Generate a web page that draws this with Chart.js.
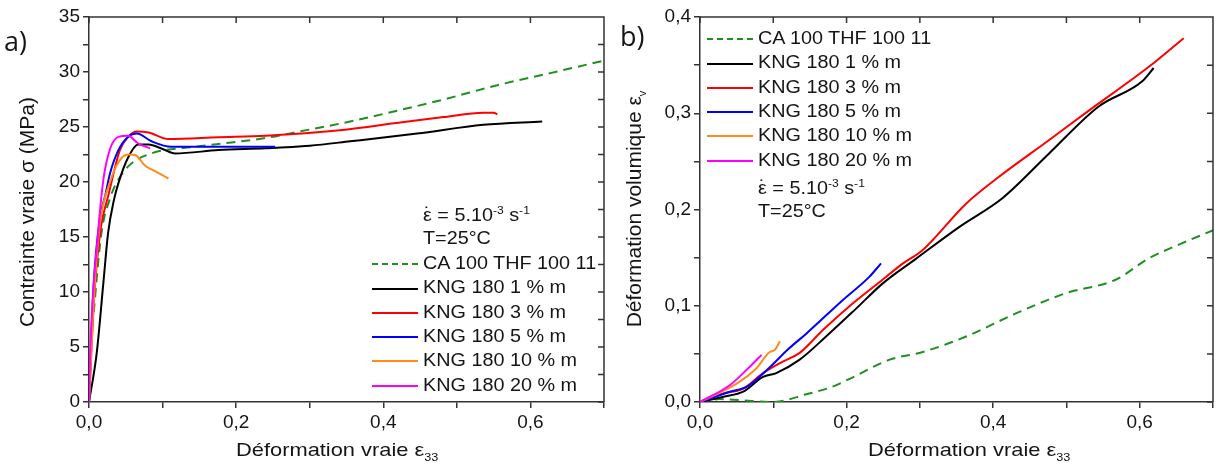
<!DOCTYPE html>
<html>
<head>
<meta charset="utf-8">
<script src="https://cdn.jsdelivr.net/npm/chart.js@4.4.1/dist/chart.umd.min.js"></script>
<style>
  body { margin: 0; background: #fff; width: 1216px; height: 465px; overflow: hidden; position: relative;
         font-family: "Liberation Sans", Arial, sans-serif; color: #151515; }
  canvas { position: absolute; top: 0; }
  .t { position: absolute; white-space: nowrap; font-size: 18px; line-height: 20px; }
  .t sup, .t sub, .item sup { font-size: 11px; line-height: 0; }
  .wide { display: inline-block; transform: scaleX(1.1); transform-origin: left center; }
  .rot { transform: translate(-50%, -50%) rotate(-90deg); font-size: 21px; }
  .xt { font-size: 19px; transform: scaleX(1.15); transform-origin: left center; }
  .item { position: absolute; white-space: nowrap; font-size: 18px; line-height: 20px; height: 20px; }
  .item i { display: inline-block; width: 46px; height: 0; border-top: 2px solid; vertical-align: middle; margin-right: 5px; }
  .edot { position: relative; }
  .edot::after { content: "\02D9"; position: absolute; left: 1px; top: -1px; }
  .panel { position: absolute; font-family: "Open Sans", sans-serif; font-size: 27px; }
</style>
</head>
<body>
<canvas id="chartA" width="620" height="465" style="left:0"></canvas>
<canvas id="chartB" width="596" height="465" style="left:620px"></canvas>

<div class="panel" style="left:4px;top:22px">a)</div>
<div class="panel" style="left:620px;top:17px">b)</div>

<div class="t rot" style="left:27px;top:212px">Contrainte vraie σ (MPa)</div>
<div class="t xt" style="left:236px;top:440px">Déformation vraie ε<sub>33</sub></div>
<div class="t rot" style="left:634px;top:209px">Déformation volumique ε<sub>v</sub></div>
<div class="t xt" style="left:868px;top:440px">Déformation vraie ε<sub>33</sub></div>

<div id="legA"></div>
<div id="legB"></div>

<script>
// légende
const seriesNames = ["CA 100 THF 100 11", "KNG 180 1 % m", "KNG 180 3 % m", "KNG 180 5 % m", "KNG 180 10 % m", "KNG 180 20 % m"];
const seriesColors = ["#1f8f1f", "#000000", "#ff0000", "#0000ff", "#ff8c1a", "#ff00ff"];

// a) contrainte vraie (MPa) vs déformation vraie
const caX_a = [0, 0.0014, 0.008, 0.017, 0.028, 0.035, 0.053, 0.085, 0.144, 0.194, 0.24, 0.287, 0.355, 0.42, 0.482, 0.555, 0.627, 0.704];
const caY_a = [0, 3.2, 9.3, 15.4, 18.4, 19.6, 21.4, 22.6, 23.2, 23.6, 24.0, 24.6, 25.5, 26.5, 27.5, 28.8, 29.9, 31.1];
const k1X_a = [0, 0.0104, 0.0195, 0.026, 0.034, 0.04, 0.053, 0.067, 0.081, 0.1, 0.117, 0.176, 0.24, 0.3, 0.355, 0.446, 0.536, 0.616];
const k1Y_a = [0, 4.4, 10.8, 15.4, 18.4, 19.9, 22.2, 23.4, 23.4, 23.0, 22.6, 22.9, 23.06, 23.3, 23.7, 24.4, 25.2, 25.5];
const k3X_a = [0, 0.007, 0.016, 0.026, 0.042, 0.053, 0.065, 0.081, 0.108, 0.176, 0.24, 0.341, 0.423, 0.482, 0.536, 0.55, 0.555];
const k3Y_a = [0, 9.5, 15.8, 18.7, 22.9, 24.1, 24.6, 24.5, 23.9, 24.06, 24.2, 24.7, 25.4, 25.9, 26.3, 26.3, 26.15];
const k5X_a = [0, 0.0059, 0.015, 0.0218, 0.0286, 0.04, 0.053, 0.065, 0.085, 0.112, 0.176, 0.24, 0.253];
const k5Y_a = [0, 10.2, 16.8, 18.7, 20.8, 22.9, 24.1, 24.4, 23.7, 23.2, 23.2, 23.2, 23.2];
const k10X_a = [0, 0.008, 0.015, 0.0286, 0.04, 0.053, 0.0626, 0.076, 0.092, 0.103, 0.108];
const k10Y_a = [0, 10.8, 16.3, 20.0, 21.8, 22.5, 22.45, 21.5, 20.9, 20.5, 20.3];
const k20X_a = [0, 0.0014, 0.0127, 0.0195, 0.0286, 0.04, 0.053, 0.067, 0.083];
const k20Y_a = [0, 4.1, 15.6, 20.2, 23.0, 24.1, 24.2, 23.5, 23.06];

// b) déformation volumique vs déformation vraie
const caX_b = [0, 0.027, 0.054, 0.1, 0.145, 0.181, 0.204, 0.259, 0.304, 0.363, 0.431, 0.499, 0.567, 0.612, 0.658, 0.702];
const caY_b = [0, 0.003, 0.002, 0, 0.008, 0.016, 0.024, 0.044, 0.052, 0.068, 0.092, 0.113, 0.127, 0.149, 0.165, 0.179];
const k1X_b = [0, 0.032, 0.059, 0.086, 0.104, 0.136, 0.172, 0.213, 0.249, 0.295, 0.354, 0.413, 0.476, 0.544, 0.603, 0.619];
const k1Y_b = [0, 0.0055, 0.0107, 0.026, 0.030, 0.044, 0.068, 0.097, 0.123, 0.149, 0.182, 0.212, 0.258, 0.307, 0.333, 0.347];
const k3X_b = [0, 0.032, 0.059, 0.086, 0.113, 0.136, 0.168, 0.2, 0.249, 0.277, 0.304, 0.363, 0.408, 0.476, 0.531, 0.612, 0.66];
const k3Y_b = [0, 0.009, 0.014, 0.030, 0.042, 0.051, 0.075, 0.097, 0.127, 0.144, 0.158, 0.206, 0.234, 0.272, 0.303, 0.348, 0.378];
const k5X_b = [0, 0.041, 0.064, 0.091, 0.122, 0.145, 0.195, 0.231, 0.247];
const k5Y_b = [0, 0.0107, 0.016, 0.033, 0.056, 0.071, 0.106, 0.130, 0.144];
const k10X_b = [0, 0.05, 0.077, 0.095, 0.102, 0.109];
const k10Y_b = [0, 0.019, 0.035, 0.052, 0.054, 0.063];
const k20X_b = [0, 0.041, 0.068, 0.084];
const k20Y_b = [0, 0.0177, 0.0367, 0.049];

const pts = (xs, ys) => xs.map((x, i) => ({ x, y: ys[i] }));
const fmt = v => v.toFixed(1).replace(".", ",");

function makeSets(list) {
  return list.map((s, i) => ({
    label: seriesNames[i],
    data: pts(s[0], s[1]),
    borderColor: seriesColors[i],
    borderWidth: 2,
    borderDash: i === 0 ? [9, 6] : [],
    pointRadius: 0,
    showLine: true,
    cubicInterpolationMode: "monotone",
    order: i === 0 ? 10 : 6 - i
  }));
}

// cadre + graduations internes en haut et à droite
const framePlugin = {
  id: "frame",
  afterDraw(chart) {
    const { ctx, chartArea: a, scales } = chart;
    ctx.save();
    ctx.strokeStyle = "#333";
    ctx.lineWidth = 1.5;
    ctx.beginPath();
    ctx.moveTo(a.left, a.top); ctx.lineTo(a.right, a.top); ctx.lineTo(a.right, a.bottom);
    scales.x.ticks.forEach((t, i) => {
      const px = scales.x.getPixelForTick(i);
      ctx.moveTo(px, a.top); ctx.lineTo(px, a.top + 6);
    });
    scales.y.ticks.forEach((t, i) => {
      const py = scales.y.getPixelForTick(i);
      ctx.moveTo(a.right, py); ctx.lineTo(a.right - 6, py);
    });
    ctx.stroke();
    ctx.restore();
  }
};

function axisOpts(min, max, step, labelFn, fit) {
  return {
    type: "linear", min, max,
    afterFit: fit,
    ticks: { stepSize: step, color: "#151515", padding: 3, font: { family: "Liberation Sans, Arial", size: 19 }, callback: labelFn, autoSkip: false, maxRotation: 0 },
    grid: { drawOnChartArea: false, drawTicks: true, tickLength: 6, color: "#333", lineWidth: 1.5 },
    border: { display: true, color: "#333", width: 1.5 }
  };
}

function makeChart(id, sets, padRight, yWidth, yOpts) {
  return new Chart(document.getElementById(id), {
    type: "scatter",
    data: { datasets: sets },
    options: {
      responsive: false,
      animation: false,
      layout: { padding: { left: 0, top: 17, right: padRight, bottom: 0 } },
      plugins: { legend: { display: false }, tooltip: { enabled: false } },
      scales: {
        x: axisOpts(0, 0.7, 0.1, v => (Math.round(v * 10) % 2 === 0 && v < 0.69 ? fmt(v) : ""), s => { s.height = 63; }),
        y: axisOpts(yOpts[0], yOpts[1], yOpts[2], yOpts[3], s => { s.width = yWidth; })
      }
    },
    plugins: [framePlugin]
  });
}

makeChart("chartA", makeSets([[caX_a, caY_a], [k1X_a, k1Y_a], [k3X_a, k3Y_a], [k5X_a, k5Y_a], [k10X_a, k10Y_a], [k20X_a, k20Y_a]]),
  16, 89, [0, 35, 2.5, v => (Math.round(v / 2.5) % 2 === 0 ? String(v) : "")]);
makeChart("chartB", makeSets([[caX_b, caY_b], [k1X_b, k1Y_b], [k3X_b, k3Y_b], [k5X_b, k5Y_b], [k10X_b, k10Y_b], [k20X_b, k20Y_b]]),
  2, 80, [0, 0.4, 0.05, v => (Math.round(v * 20) % 2 === 0 ? fmt(v) : "")]);

// légendes (html)
function buildLegend(el, left, top, textTop) {
  let html = "";
  seriesNames.forEach((n, i) => {
    const style = i === 0 ? `border-top-style:dashed;border-color:${seriesColors[i]}` : `border-color:${seriesColors[i]}`;
    html += `<div class="item" style="left:${left}px;top:${top + i * 24.3 - 10}px"><i style="${style}"></i><span class="wide">${n}</span></div>`;
  });
  html += `<div class="item" style="left:${left + 51}px;top:${textTop - 10}px"><span class="wide"><span class="edot">ε</span> = 5.10<sup>-3</sup> s<sup>-1</sup></span></div>`;
  html += `<div class="item" style="left:${left + 51}px;top:${textTop + 23 - 10}px"><span class="wide">T=25°C</span></div>`;
  el.innerHTML = html;
}
buildLegend(document.getElementById("legA"), 372, 263, 215);
buildLegend(document.getElementById("legB"), 707, 38, 188);
</script>
</body>
</html>
